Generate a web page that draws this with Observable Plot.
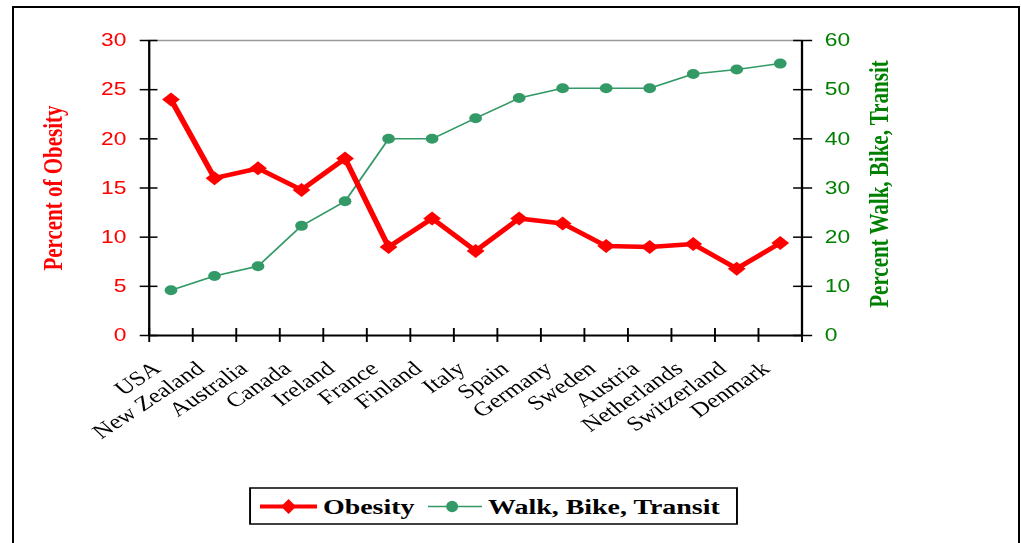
<!DOCTYPE html>
<html><head><meta charset="utf-8">
<script src="https://cdn.jsdelivr.net/npm/d3@7"></script>
<script src="https://cdn.jsdelivr.net/npm/@observablehq/plot@0.6"></script>
<style>
body{margin:0;background:#fff;width:1021px;height:543px;overflow:hidden;position:relative}
#frame{position:absolute;left:12px;top:6px;width:1008px;height:600px;border:2px solid #000;box-sizing:border-box;pointer-events:none}
#wrap{position:absolute;left:0;top:0;width:804px;height:543px;transform:scaleX(1.27);transform-origin:0 0}
#wrap svg{position:absolute;left:0;top:0}
</style></head><body>
<div id="wrap"></div><div id="frame"></div>
<script>
const countries = ["USA","New Zealand","Australia","Canada","Ireland","France","Finland","Italy","Spain","Germany","Sweden","Austria","Netherlands","Switzerland","Denmark"];
const obesity = [24.0,16.0,17.0,14.8,18.0,9.0,11.9,8.6,11.9,11.4,9.1,9.0,9.3,6.8,9.4];
const walkBikeTransit = [9.2,12.1,14.1,22.3,27.3,40,40,44.2,48.3,50.3,50.3,50.3,53.2,54.1,55.3];
const leftTicks = [0,5,10,15,20,25,30];
const rightTicks = [0,10,20,30,40,50,60];
const seriesNames = ["Obesity","Walk, Bike, Transit"];
const axisTitles = ["Percent of Obesity","Percent Walk, Bike, Transit"];

const K = 1.27;
const W = Math.round(1021 / K);
const data = countries.map((c, i) => ({country: c, pos: i + 0.5, obesity: obesity[i], walk: walkBikeTransit[i]}));
const RED = "#ff0000", GREEN_TXT = "#008000", GREEN = "#339966";
const serif = "Liberation Serif, Times New Roman, serif";
const sans = "Liberation Sans, Arial, sans-serif";

const plot = Plot.plot({
  width: W, height: 480,
  marginLeft: 117, marginRight: W - 631, marginTop: 40, marginBottom: 145,
  x: {domain: [0, countries.length], axis: null},
  y: {domain: [0, 30], axis: null},
  style: {background: "transparent", overflow: "visible"},
  marks: [
    Plot.ruleY([30], {stroke: "#9a9a9a", strokeWidth: 1.5}),
    Plot.ruleX([0, countries.length], {stroke: "#000", strokeWidth: 1.8}),
    Plot.ruleY([0], {stroke: "#000", strokeWidth: 2}),
    Plot.axisX(d3.range(countries.length + 1), {anchor: "bottom", label: null, tickSize: 14, dy: -7, tickFormat: () => "", color: "#000", strokeWidth: 1.5}),
    Plot.axisY(leftTicks, {anchor: "left", label: null, tickSize: 14, dx: 7, tickFormat: () => "", color: "#000", strokeWidth: 1.5}),
    Plot.axisY(leftTicks, {anchor: "left", label: null, tickSize: 0, tickPadding: 18, color: RED, fontSize: 18, fontFamily: sans}),
    Plot.axisY(rightTicks.map(d => d / 2), {anchor: "right", label: null, tickSize: 15, dx: -7.5, tickFormat: () => "", color: "#000", strokeWidth: 1.5}),
    Plot.axisY(rightTicks.map(d => d / 2), {anchor: "right", label: null, tickSize: 0, tickPadding: 18, tickFormat: d => d * 2, color: GREEN_TXT, fontSize: 18, fontFamily: sans}),
    Plot.text(data, {x: "pos", text: "country", frameAnchor: "bottom", rotate: -40, textAnchor: "end", dx: -7, dy: 35, fontSize: 20, fontFamily: serif, fill: "#000"}),
    Plot.line(data, {x: "pos", y: d => d.walk / 2, stroke: GREEN, strokeWidth: 1.5}),
    Plot.dot(data, {x: "pos", y: d => d.walk / 2, r: 5, fill: GREEN}),
    Plot.line(data, {x: "pos", y: "obesity", stroke: RED, strokeWidth: 4.5}),
    Plot.dot(data, {x: "pos", y: "obesity", symbol: "diamond2", r: 6.3, fill: RED}),
    Plot.text([axisTitles[0]], {frameAnchor: "left", textAnchor: "middle", text: d => d, rotate: -90, dx: -75.6, fill: RED, fontWeight: "bold", fontSize: 21, fontFamily: serif}),
    Plot.text([axisTitles[1]], {frameAnchor: "right", textAnchor: "middle", text: d => d, rotate: -90, dx: 60.6, dy: -4, fill: GREEN_TXT, fontWeight: "bold", fontSize: 21, fontFamily: serif})
  ]
});
document.getElementById("wrap").appendChild(plot);

// legend
const L = d3.create("svg").attr("width", W).attr("height", 543);
const ly = 506.5;
L.append("rect").attr("x", 196.9).attr("y", 488).attr("width", 383.4).attr("height", 36)
  .attr("fill", "#fff").attr("stroke", "#000").attr("stroke-width", 1.5);
L.append("line").attr("x1", 204.7).attr("x2", 249.6).attr("y1", ly).attr("y2", ly).attr("stroke", RED).attr("stroke-width", 4);
L.append("path").attr("d", `M227.2,${ly-7.5}L233.1,${ly}L227.2,${ly+7.5}L221.3,${ly}Z`).attr("fill", RED);
L.append("text").attr("x", 254.3).attr("y", 514).attr("font-family", serif).attr("font-weight", "bold").attr("font-size", 22).text(seriesNames[0]);
L.append("line").attr("x1", 337).attr("x2", 379.5).attr("y1", ly).attr("y2", ly).attr("stroke", GREEN).attr("stroke-width", 1.5);
L.append("ellipse").attr("cx", 356).attr("cy", ly).attr("rx", 4.7).attr("ry", 5.8).attr("fill", GREEN);
L.append("text").attr("x", 384.3).attr("y", 514).attr("font-family", serif).attr("font-weight", "bold").attr("font-size", 22).text(seriesNames[1]);
document.getElementById("wrap").appendChild(L.node());
</script>
</body></html>
